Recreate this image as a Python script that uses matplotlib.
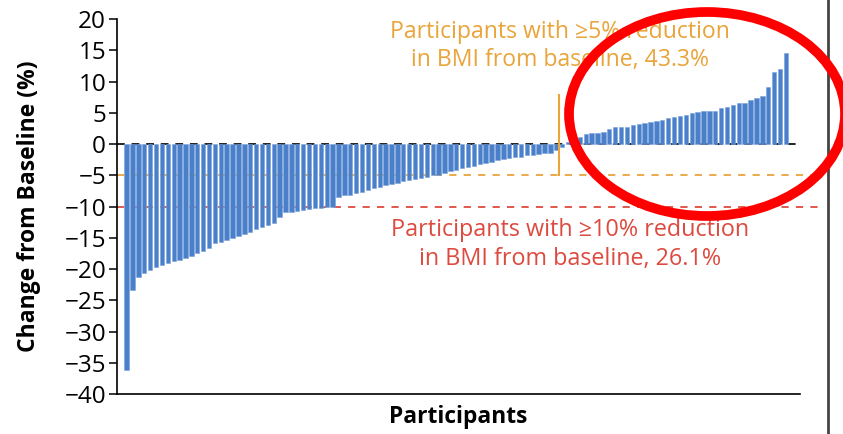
import matplotlib.pyplot as plt
import numpy as np
from matplotlib.lines import Line2D
from matplotlib.patches import Ellipse

plt.rcParams['font.family'] = ['Open Sans', 'DejaVu Sans']

# change in BMI from baseline (%), one value per participant, sorted
bmi_reduction = [
    -36.2, -23.4, -21.3, -20.7, -20.2, -19.6, -19.4, -19.1, -18.7, -18.6,
    -18.3, -17.9, -17.5, -17.1, -16.7, -15.9, -15.6, -15.4, -15.1, -14.7,
    -14.4, -14.0, -13.6, -13.2, -13.0, -12.7, -11.6, -10.9, -10.8, -10.7,
    -10.5, -10.4, -10.3, -10.2, -10.1, -10.0, -8.5, -8.2, -8.1, -7.9,
    -7.6, -7.3, -7.0, -6.8, -6.6, -6.4, -6.2, -5.9, -5.8, -5.6,
    -5.4, -5.2, -5.0, -4.9, -4.7, -4.3, -4.1, -3.9, -3.7, -3.5,
    -3.2, -3.0, -2.8, -2.6, -2.4, -2.2, -2.1, -2.0, -1.8,
    -1.7, -1.6, -1.5, -1.4, -1.0, -0.4,
]
bmi_gain = [
    0.3, 0.6, 1.2, 1.6, 1.7, 1.8, 2.0, 2.4, 2.7, 2.8,
    2.8, 3.0, 3.2, 3.4, 3.5, 3.7, 3.9, 4.1, 4.3, 4.5,
    4.7, 4.9, 5.2, 5.3, 5.3, 5.3, 5.7, 6.0, 6.2, 6.6,
    6.6, 7.0, 7.3, 7.7, 9.1, 11.6, 12.0, 14.6,
]
thresholds = [-5, -10]
pct_labels = ["43.3%", "26.1%"]
y_ticks = list(range(-40, 25, 5))

values = np.array(bmi_reduction + bmi_gain)
n = len(values)
idx = np.arange(n)

blue = "#4a7fca"
orange = "#e9a43a"
red = "#dd4a3f"

fig = plt.figure(figsize=(8.43, 4.34), dpi=100)
ax = fig.add_axes([0.139, 0.092, 0.81, 0.864])

ax.bar(idx, values, width=0.74, color=blue, edgecolor="#7aa3dc",
       linewidth=0.4, zorder=3)

ax.axhline(0, color="#222222", lw=1.4, ls=(0, (4, 3.5)), zorder=2)
ytr = ax.get_yaxis_transform()
ax.plot([0, 1.03], [thresholds[0]] * 2, transform=ytr, clip_on=False,
        color=orange, lw=1.3, ls=(0, (4, 4)), zorder=2)
ax.plot([0, 1.03], [thresholds[1]] * 2, transform=ytr, clip_on=False,
        color=red, lw=1.3, ls=(0, (4, 4)), zorder=2)

# marker between the reduction and gain groups
split = len(bmi_reduction) - 1.6
ax.plot([split, split], [thresholds[0], 7.8], color=orange, lw=1.5, zorder=4)

ax.text(split + 0.2, 15.7,
        "Participants with \u22655% reduction\nin BMI from baseline, " + pct_labels[0],
        color=orange, fontsize=16.6, ha="center", va="center", linespacing=1.27)
ax.text(split + 2.0, -16.1,
        "Participants with \u226510% reduction\nin BMI from baseline, " + pct_labels[1],
        color=red, fontsize=16.8, ha="center", va="center", linespacing=1.27)

ax.set_xlim(-1.6, n + 1.4)
ax.set_ylim(-40, 20)
ax.set_yticks(y_ticks)
ax.set_xticks([])
ax.tick_params(axis="y", labelsize=17.5, length=6, width=1.1, pad=2)
for s in ["top", "right"]:
    ax.spines[s].set_visible(False)
ax.spines["left"].set_linewidth(1.2)
ax.spines["bottom"].set_linewidth(1.2)

ax.set_ylabel("Change from Baseline (%)", fontsize=16.5, fontweight="bold")
ax.yaxis.set_label_coords(-0.112, 0.5)
ax.set_xlabel("Participants", fontsize=16.4, fontweight="bold", labelpad=8)

# panel border on the right
fig.add_artist(Line2D([828 / 843, 828 / 843], [0, 1], transform=fig.transFigure,
                      color="#444444", lw=2))

# highlight ellipse
fig.add_artist(Ellipse((707 / 843, 1 - 114 / 434), 276 / 843, 204 / 434,
                       transform=fig.transFigure, fill=False,
                       edgecolor="#ff0000", lw=7, zorder=10))

fig.savefig("out.png", dpi=100)
